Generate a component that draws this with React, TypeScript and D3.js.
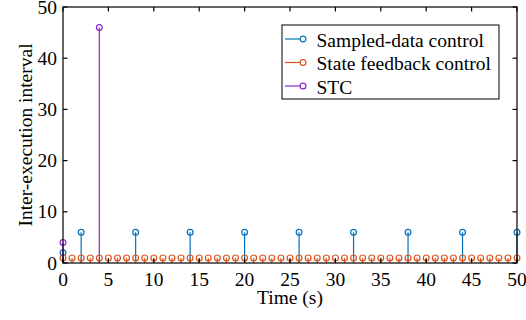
import React from "react";
import * as d3 from "d3";

const xTicks = [0, 5, 10, 15, 20, 25, 30, 35, 40, 45, 50];
const yTicks = [0, 10, 20, 30, 40, 50];

const sampledT = [0, 2, 8, 14, 20, 26, 32, 38, 44, 50];
const sampledV = [2, 6, 6, 6, 6, 6, 6, 6, 6, 6];

const stateT = [0, 1, 2, 3, 4, 5, 6, 7, 8, 9, 10, 11, 12, 13, 14, 15, 16, 17, 18, 19, 20, 21, 22, 23, 24, 25, 26, 27, 28, 29, 30, 31, 32, 33, 34, 35, 36, 37, 38, 39, 40, 41, 42, 43, 44, 45, 46, 47, 48, 49, 50];
const stateV = [1, 1, 1, 1, 1, 1, 1, 1, 1, 1, 1, 1, 1, 1, 1, 1, 1, 1, 1, 1, 1, 1, 1, 1, 1, 1, 1, 1, 1, 1, 1, 1, 1, 1, 1, 1, 1, 1, 1, 1, 1, 1, 1, 1, 1, 1, 1, 1, 1, 1, 1];

const stcT = [0, 4];
const stcV = [4, 46];

const seriesNames = ["Sampled-data control", "State feedback control", "STC"];
const colors = ["#0072BD", "#D95319", "#8E24D4"];

const W = 526, H = 320;
const L = 63, R = 517, T = 7, B = 263;
const FS = 19.5;
const txt: React.CSSProperties = { fontFamily: "Liberation Serif", fontSize: FS };

export default function App() {
  const x = d3.scaleLinear().domain([0, 50]).range([L, R]);
  const y = d3.scaleLinear().domain([0, 50]).range([B, T]);
  const series = [
    { t: sampledT, v: sampledV, c: colors[0] },
    { t: stateT, v: stateV, c: colors[1] },
    { t: stcT, v: stcV, c: colors[2] },
  ];
  const tl = 4.5;
  return (
    <svg width={W} height={H} style={{ position: "absolute", left: 0, top: 0, background: "#fff" }}>
      <rect x={0} y={0} width={W} height={H} fill="#fff" />
      {series.map((s, si) => (
        <g key={si}>
          {s.t.map((t, i) => (
            <g key={i}>
              <line x1={x(t)} x2={x(t)} y1={y(0)} y2={y(s.v[i])} stroke={s.c} strokeWidth={1.2} />
              <circle cx={x(t)} cy={y(s.v[i])} r={2.9} fill="none" stroke={s.c} strokeWidth={1.2} />
            </g>
          ))}
        </g>
      ))}
      <rect x={L} y={T} width={R - L} height={B - T} fill="none" stroke="#000" strokeWidth={1.2} />
      {xTicks.map((t) => (
        <g key={"x" + t}>
          <line x1={x(t)} x2={x(t)} y1={B} y2={B - tl} stroke="#000" strokeWidth={1.2} />
          <line x1={x(t)} x2={x(t)} y1={T} y2={T + tl} stroke="#000" strokeWidth={1.2} />
          <text x={x(t)} y={286} textAnchor="middle" style={txt} fill="#000">{t}</text>
        </g>
      ))}
      {yTicks.map((t) => (
        <g key={"y" + t}>
          <line x1={L} x2={L + tl} y1={y(t)} y2={y(t)} stroke="#000" strokeWidth={1.2} />
          <line x1={R} x2={R - tl} y1={y(t)} y2={y(t)} stroke="#000" strokeWidth={1.2} />
          <text x={57} y={y(t) + 6.5} textAnchor="end" style={txt} fill="#000">{t}</text>
        </g>
      ))}
      <text x={(L + R) / 2} y={304} textAnchor="middle" style={txt} fill="#000">Time (s)</text>
      <text transform={`translate(32,${(T + B) / 2}) rotate(-90)`} textAnchor="middle" style={txt} fill="#000">Inter-execution interval</text>
      <rect x={282} y={25} width={217} height={74} fill="#fff" stroke="#000" strokeWidth={1} />
      {seriesNames.map((n, i) => {
        const ly = 39 + i * 23.5;
        return (
          <g key={n}>
            <line x1={285} x2={303} y1={ly} y2={ly} stroke={colors[i]} strokeWidth={1.2} />
            <circle cx={303} cy={ly} r={2.9} fill="#fff" stroke={colors[i]} strokeWidth={1.2} />
            <text x={316.5} y={ly + 7.5} style={txt} fill="#000">{n}</text>
          </g>
        );
      })}
    </svg>
  );
}
